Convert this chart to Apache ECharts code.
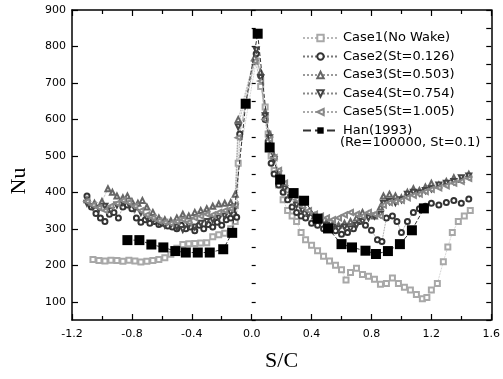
<!DOCTYPE html>
<html>
<head>
<meta charset="utf-8">
<script src="https://cdn.jsdelivr.net/npm/echarts@6/dist/echarts.min.js"></script>
<style>html,body{margin:0;padding:0;background:#fff}#c{width:503px;height:379px}</style>
</head>
<body>
<div id="c"></div>
<script>
// ---- data ----
const xTicks = [-1.2, -0.8, -0.4, 0.0, 0.4, 0.8, 1.2, 1.6];
const yTicks = [100, 200, 300, 400, 500, 600, 700, 800, 900];

const case1X = [-1.06,-1.02,-0.98,-0.94,-0.90,-0.86,-0.82,-0.78,-0.74,-0.70,-0.66,-0.62,-0.58,-0.54,-0.50,-0.46,-0.42,-0.38,-0.34,-0.30,-0.26,-0.22,-0.18,-0.14,-0.11,-0.09,0.03,0.06,0.09,0.11,0.13,0.15,0.18,0.21,0.24,0.27,0.30,0.33,0.36,0.40,0.44,0.48,0.52,0.56,0.60,0.63,0.66,0.70,0.74,0.78,0.82,0.86,0.90,0.94,0.98,1.02,1.06,1.10,1.14,1.17,1.20,1.24,1.28,1.31,1.34,1.38,1.42,1.46];
const case1Y = [216,213,212,214,213,211,214,212,209,211,213,216,221,230,247,257,259,260,261,262,278,284,288,300,320,480,760,690,634,560,500,460,420,380,350,335,320,290,270,255,240,225,212,200,188,160,180,192,175,170,162,148,150,165,150,140,132,120,108,112,132,150,210,250,290,320,335,350];

const case2X = [-1.10,-1.07,-1.04,-1.01,-0.98,-0.95,-0.92,-0.89,-0.86,-0.83,-0.80,-0.77,-0.74,-0.71,-0.68,-0.65,-0.62,-0.59,-0.56,-0.53,-0.50,-0.47,-0.44,-0.41,-0.38,-0.35,-0.32,-0.29,-0.26,-0.23,-0.20,-0.17,-0.14,-0.12,-0.10,-0.08,0.03,0.06,0.09,0.11,0.13,0.15,0.18,0.21,0.24,0.27,0.30,0.33,0.36,0.40,0.44,0.48,0.52,0.56,0.60,0.64,0.68,0.72,0.76,0.80,0.84,0.87,0.90,0.94,0.97,1.00,1.04,1.08,1.12,1.16,1.20,1.25,1.30,1.35,1.40,1.45];
const case2Y = [390,360,342,330,320,340,345,330,360,365,355,330,318,325,315,320,312,315,308,305,300,310,300,305,295,310,300,312,305,318,310,325,330,340,332,560,780,720,600,540,480,450,420,400,380,360,345,335,330,315,310,300,305,295,285,290,300,320,310,296,270,265,330,335,320,290,320,345,355,362,370,365,372,378,370,382];

const case3X = [-1.10,-1.05,-1.00,-0.96,-0.93,-0.90,-0.86,-0.83,-0.80,-0.76,-0.73,-0.70,-0.66,-0.62,-0.58,-0.54,-0.50,-0.46,-0.42,-0.38,-0.34,-0.30,-0.26,-0.22,-0.18,-0.14,-0.11,-0.09,0.02,0.06,0.09,0.12,0.15,0.18,0.22,0.26,0.30,0.34,0.38,0.42,0.46,0.50,0.54,0.58,0.62,0.66,0.70,0.74,0.78,0.82,0.86,0.88,0.92,0.96,1.00,1.04,1.08,1.12,1.16,1.20,1.25,1.30,1.35,1.40,1.45];
const case3Y = [380,370,375,410,400,390,385,390,375,370,378,360,345,330,325,322,330,340,335,345,350,355,362,368,370,372,395,600,770,730,620,560,500,455,420,395,375,355,345,335,325,318,312,310,315,320,330,345,340,335,360,390,395,390,385,400,410,405,415,425,420,430,440,435,450];

const case4X = [-1.10,-1.06,-1.02,-0.98,-0.94,-0.90,-0.86,-0.82,-0.78,-0.74,-0.70,-0.66,-0.62,-0.58,-0.54,-0.50,-0.46,-0.42,-0.38,-0.34,-0.30,-0.26,-0.22,-0.18,-0.14,-0.11,-0.09,0.03,0.06,0.09,0.12,0.15,0.18,0.22,0.26,0.30,0.34,0.38,0.42,0.46,0.50,0.54,0.58,0.62,0.66,0.70,0.74,0.78,0.82,0.86,0.88,0.92,0.96,1.00,1.04,1.08,1.12,1.16,1.20,1.25,1.30,1.35,1.40,1.45];
const case4Y = [370,360,355,362,350,365,372,368,355,345,330,322,318,310,312,305,298,310,305,315,320,325,330,335,345,360,580,790,715,610,550,490,450,410,385,365,350,340,330,320,310,305,300,305,300,310,320,330,335,340,370,375,372,380,395,400,398,405,410,420,425,430,440,445];

const case5X = [-1.10,-1.06,-1.02,-0.98,-0.94,-0.90,-0.86,-0.82,-0.78,-0.74,-0.70,-0.66,-0.62,-0.58,-0.54,-0.50,-0.46,-0.42,-0.38,-0.34,-0.30,-0.26,-0.22,-0.18,-0.14,-0.11,-0.09,0.02,0.06,0.09,0.12,0.15,0.18,0.22,0.26,0.30,0.34,0.38,0.42,0.46,0.50,0.54,0.58,0.62,0.66,0.70,0.74,0.78,0.82,0.86,0.88,0.92,0.96,1.00,1.04,1.08,1.12,1.16,1.20,1.25,1.30,1.35,1.40,1.45];
const case5Y = [375,365,358,350,362,370,378,372,362,350,338,330,322,318,315,320,325,318,330,335,340,338,345,350,355,365,550,760,705,600,545,495,460,425,400,380,362,350,340,335,330,325,330,338,345,340,335,345,340,335,365,372,375,378,385,392,395,402,408,412,418,425,430,438];

const hanX = [-0.83,-0.75,-0.67,-0.59,-0.51,-0.44,-0.36,-0.28,-0.19,-0.13,-0.04,0.04,0.12,0.19,0.28,0.35,0.44,0.51,0.60,0.67,0.76,0.83,0.91,0.99,1.07,1.15];
const hanY = [269,269,257,249,239,235,235,235,244,289,643,835,523,435,398,377,328,301,258,249,240,231,239,258,296,356];

const names = ['Case1(No Wake)','Case2(St=0.126)','Case3(St=0.503)','Case4(St=0.754)','Case5(St=1.005)','Han(1993)'];
const noteText = '(Re=100000, St=0.1)';

// ---- chart ----
const zip = (xs, ys) => xs.map((x, i) => [x, ys[i]]);
const LF = 'DejaVu Sans';
const chart = echarts.init(document.getElementById('c'), null, {renderer: 'canvas'});

function caseSeries(name, xs, ys, symbol, rot, color, lineColor) {
  return {
    name, type: 'line', data: zip(xs, ys),
    symbol, symbolSize: 5, symbolRotate: rot,
    lineStyle: {type: 'dotted', width: 0.8, color: lineColor},
    itemStyle: {color, borderColor: color, borderWidth: 0.9},
    z: 2, animation: false
  };
}

const axisCommon = {
  type: 'value',
  axisLine: {show: true, onZero: false, lineStyle: {color: '#000', width: 1.5}},
  axisTick: {show: true, inside: true, length: 6, lineStyle: {color: '#000', width: 1.2}},
  minorTick: {show: true, splitNumber: 2, length: 4, lineStyle: {color: '#000', width: 1.2}},
  splitLine: {show: false}
};

chart.setOption({
  animation: false,
  backgroundColor: '#fff',
  grid: {left: 64, right: 7, top: 10, bottom: 59},
  xAxis: [
    Object.assign({}, axisCommon, {
      position: 'bottom', min: -1.2, max: 1.6, interval: 0.4,
      axisLabel: {color: '#000', fontFamily: LF, fontSize: 11, margin: 9,
        formatter: v => v.toFixed(1)},
      name: 'S/C', nameLocation: 'middle', nameGap: 30,
      nameTextStyle: {fontFamily: 'Liberation Serif', fontSize: 22, color: '#000'}
    }),
    Object.assign({}, axisCommon, {
      position: 'top', min: -1.2, max: 1.6, interval: 0.4,
      axisLabel: {show: false}
    })
  ],
  yAxis: [
    Object.assign({}, axisCommon, {
      position: 'left', min: 50, max: 900, interval: 100,
      axisLabel: {color: '#000', fontFamily: LF, fontSize: 11, margin: 6,
        customValues: yTicks},
      axisTick: {show: true, inside: true, length: 6, customValues: yTicks, lineStyle: {color: '#000', width: 1.2}},
      minorTick: {show: false},
      name: 'Nu', nameLocation: 'middle', nameGap: 42, nameRotate: 90,
      nameTextStyle: {fontFamily: 'Liberation Serif', fontSize: 22, color: '#000', padding: [0, 32, 0, 0]}
    }),
    Object.assign({}, axisCommon, {
      position: 'right', min: 50, max: 900, interval: 50,
      axisLabel: {show: false},
      minorTick: {show: false},
      axisTick: {show: true, inside: true, length: 5, lineStyle: {color: '#000', width: 1.2}}
    }),
    Object.assign({}, axisCommon, {
      position: 'left', min: 50, max: 900, interval: 50,
      axisLine: {show: false},
      axisLabel: {show: false},
      minorTick: {show: false},
      axisTick: {show: true, inside: true, length: 4, lineStyle: {color: '#000', width: 1.2}}
    })
  ],
  legend: {
    orient: 'vertical', left: 297, top: 26,
    itemWidth: 35, itemHeight: 8, itemGap: 4.5,
    textStyle: {fontFamily: LF, fontSize: 13, color: '#000', lineHeight: 14},
    data: names
  },
  graphic: [{
    type: 'text', left: 340, top: 136,
    style: {text: noteText, font: '13px "DejaVu Sans"', fill: '#000'}
  }],
  series: [
    caseSeries(names[0], case1X, case1Y, 'emptyRect', 0, '#a8a8a8', '#b8b8b8'),
    caseSeries(names[1], case2X, case2Y, 'emptyCircle', 0, '#333', '#777'),
    caseSeries(names[2], case3X, case3Y, 'emptyTriangle', 0, '#666', '#999'),
    caseSeries(names[3], case4X, case4Y, 'emptyTriangle', 180, '#444', '#888'),
    caseSeries(names[4], case5X, case5Y, 'emptyTriangle', 90, '#888', '#aaa'),
    {
      name: names[5], type: 'line', data: zip(hanX, hanY),
      symbol: 'rect', symbolSize: 10,
      lineStyle: {type: 'dashed', width: 1, color: '#333'},
      itemStyle: {color: '#000'},
      z: 5, animation: false
    }
  ]
});
</script>
</body>
</html>
